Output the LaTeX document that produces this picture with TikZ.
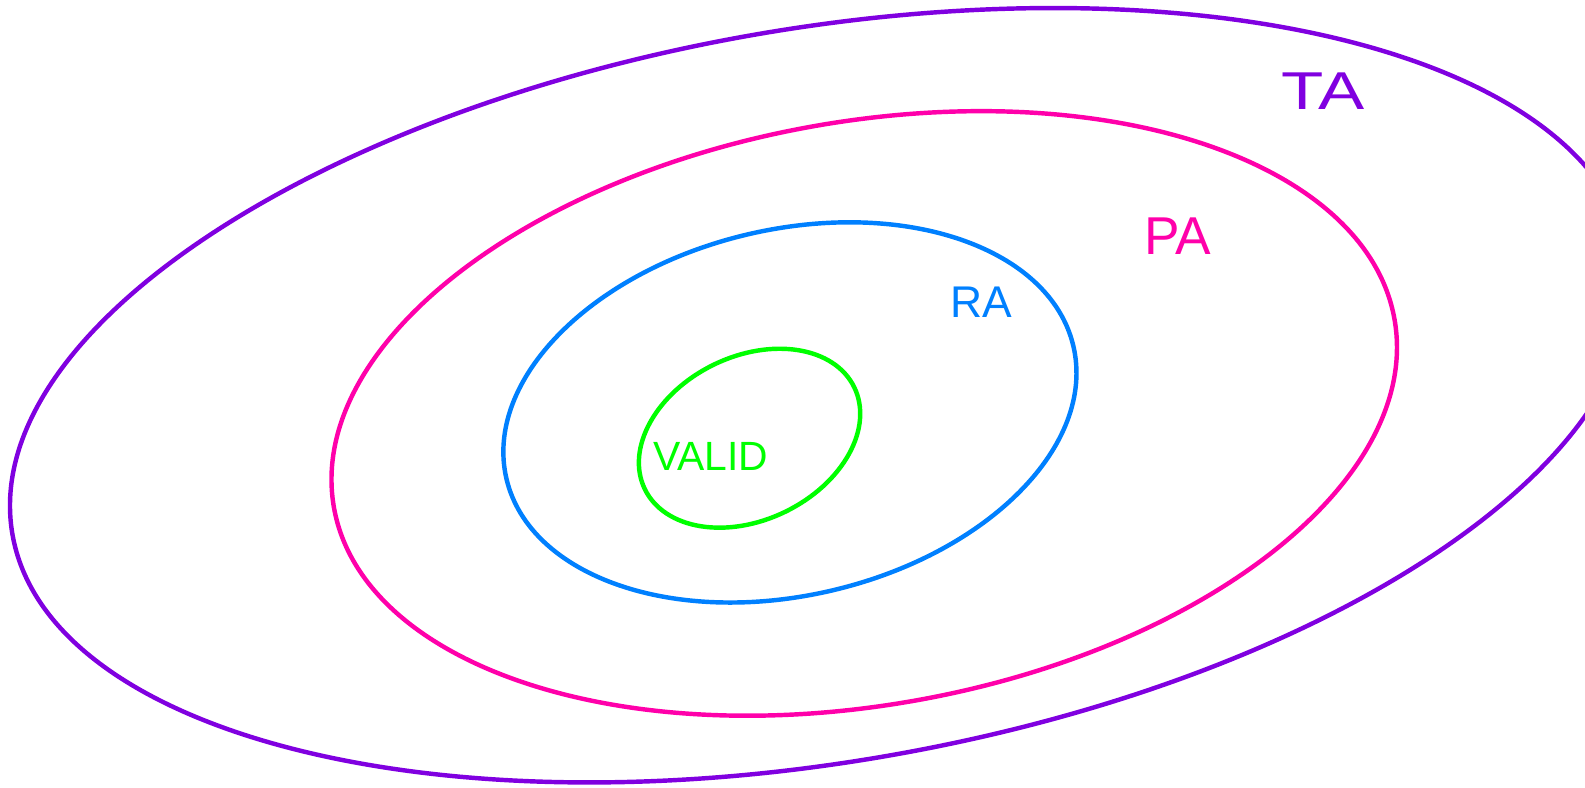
\documentclass[tikz,border=0pt]{standalone}
\usepackage{fontspec}
\setmainfont{Liberation Sans}
\definecolor{taviolet}{RGB}{128,0,224}
\definecolor{papink}{RGB}{255,0,170}
\definecolor{rablue}{RGB}{0,128,255}
\definecolor{validgreen}{RGB}{0,255,0}
\tikzset{
  setline/.style={line width=2.5pt},
  setlabel/.style={inner sep=0pt, font=\fontsize{#1}{#1}\selectfont},
}
\begin{document}
\begin{tikzpicture}[x=0.02cm, y=-0.02cm]
  \useasboundingbox (0,0) rectangle (1568,779);
  \clip (0,0) rectangle (1568,779);
  % centres of the nested sets
  \coordinate (cTA) at (812.5,391);
  \coordinate (cPA) at (855,409);
  \coordinate (cRA) at (781.5,408);
  \coordinate (cVA) at (741.5,433.5);
  % nested sets
  \draw[setline, taviolet, rotate around={9.74:(cTA)}] (cTA) ellipse [x radius=811.9, y radius=362.7];
  \draw[setline, papink, rotate around={10.08:(cPA)}] (cPA) ellipse [x radius=532.8, y radius=288.5];
  \draw[setline, rablue, rotate around={13.14:(cRA)}] (cRA) ellipse [x radius=288.0, y radius=181.0];
  \draw[setline, validgreen, rotate around={25.95:(cVA)}] (cVA) ellipse [x radius=115.2, y radius=80.9];
  % labels
  \node[setlabel=30, text=taviolet, xscale=1.3] (lTA) at (1309,90) {TA};
  \node[setlabel=30, text=papink] (lPA) at (1165,234) {PA};
  \node[setlabel=25, text=rablue] (lRA) at (971,299) {RA};
  \node[setlabel=23, text=validgreen] (lVA) at (703,452) {VALID};
\end{tikzpicture}
\end{document}
